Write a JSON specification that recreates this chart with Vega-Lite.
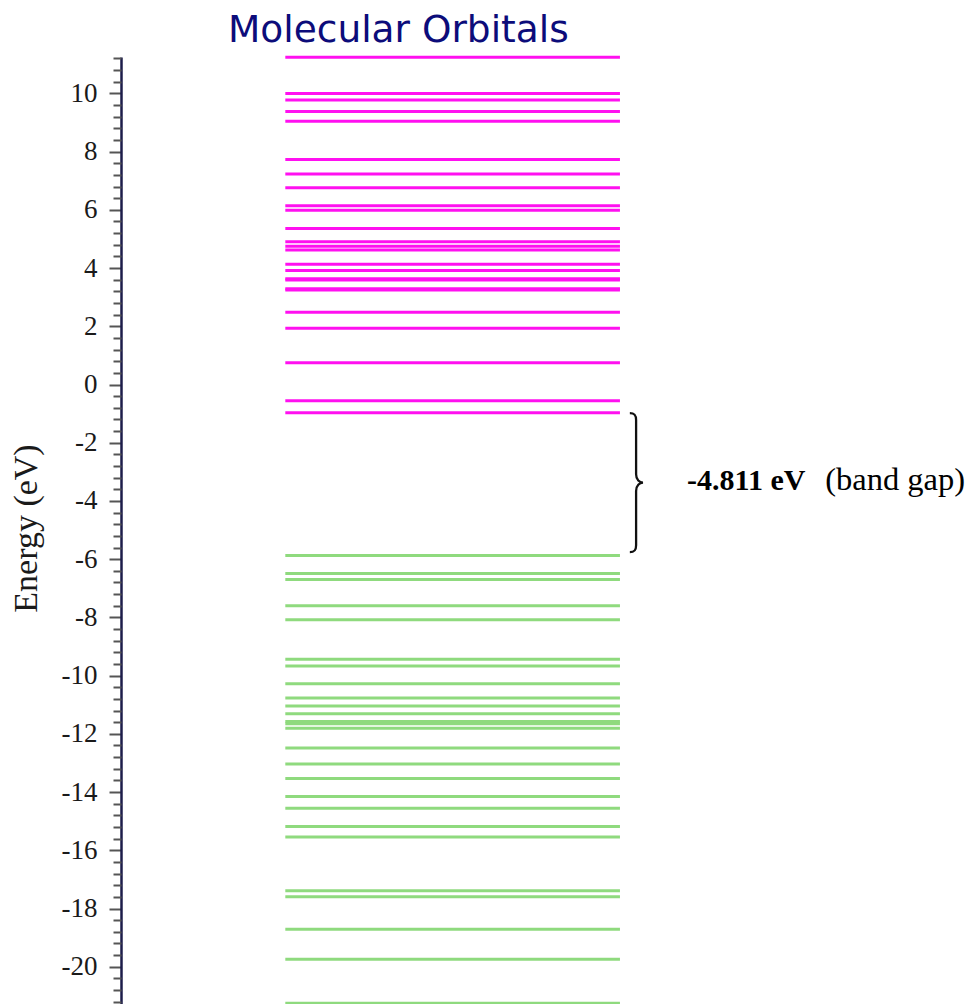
{
  "$schema": "https://vega.github.io/schema/vega-lite/v6.json",
  "autosize": {"type": "none"},
  "padding": {"left": 121, "top": 57, "right": 0, "bottom": 0},
  "width": 850,
  "height": 947,
  "background": "white",
  "config": {"view": {"stroke": null}},
  "title": {
    "text": "Molecular Orbitals",
    "anchor": "start",
    "frame": "group",
    "dx": 107,
    "offset": 6,
    "font": "DejaVu Sans",
    "fontSize": 37.5,
    "fontWeight": "normal",
    "color": "#0c0c7a"
  },
  "datasets": {
    "orbitals": [
      {"energy": 11.24, "orbital": "unoccupied"},
      {"energy": 10.0, "orbital": "unoccupied"},
      {"energy": 9.77, "orbital": "unoccupied"},
      {"energy": 9.38, "orbital": "unoccupied"},
      {"energy": 9.04, "orbital": "unoccupied"},
      {"energy": 7.73, "orbital": "unoccupied"},
      {"energy": 7.23, "orbital": "unoccupied"},
      {"energy": 6.76, "orbital": "unoccupied"},
      {"energy": 6.14, "orbital": "unoccupied"},
      {"energy": 5.99, "orbital": "unoccupied"},
      {"energy": 5.36, "orbital": "unoccupied"},
      {"energy": 4.90, "orbital": "unoccupied"},
      {"energy": 4.75, "orbital": "unoccupied"},
      {"energy": 4.62, "orbital": "unoccupied"},
      {"energy": 4.13, "orbital": "unoccupied"},
      {"energy": 3.92, "orbital": "unoccupied"},
      {"energy": 3.63, "orbital": "unoccupied"},
      {"energy": 3.59, "orbital": "unoccupied"},
      {"energy": 3.29, "orbital": "unoccupied"},
      {"energy": 3.25, "orbital": "unoccupied"},
      {"energy": 2.48, "orbital": "unoccupied"},
      {"energy": 1.93, "orbital": "unoccupied"},
      {"energy": 0.75, "orbital": "unoccupied"},
      {"energy": -0.56, "orbital": "unoccupied"},
      {"energy": -0.97, "orbital": "unoccupied"},
      {"energy": -5.87, "orbital": "occupied"},
      {"energy": -6.49, "orbital": "occupied"},
      {"energy": -6.70, "orbital": "occupied"},
      {"energy": -7.60, "orbital": "occupied"},
      {"energy": -8.08, "orbital": "occupied"},
      {"energy": -9.44, "orbital": "occupied"},
      {"energy": -9.67, "orbital": "occupied"},
      {"energy": -10.28, "orbital": "occupied"},
      {"energy": -10.77, "orbital": "occupied"},
      {"energy": -11.04, "orbital": "occupied"},
      {"energy": -11.31, "orbital": "occupied"},
      {"energy": -11.58, "orbital": "occupied"},
      {"energy": -11.65, "orbital": "occupied"},
      {"energy": -11.81, "orbital": "occupied"},
      {"energy": -12.49, "orbital": "occupied"},
      {"energy": -13.04, "orbital": "occupied"},
      {"energy": -13.53, "orbital": "occupied"},
      {"energy": -14.15, "orbital": "occupied"},
      {"energy": -14.56, "orbital": "occupied"},
      {"energy": -15.18, "orbital": "occupied"},
      {"energy": -15.54, "orbital": "occupied"},
      {"energy": -17.39, "orbital": "occupied"},
      {"energy": -17.60, "orbital": "occupied"},
      {"energy": -18.71, "orbital": "occupied"},
      {"energy": -19.74, "orbital": "occupied"},
      {"energy": -21.25, "orbital": "occupied"}
    ],
    "gap": [
      {"mid": -3.37, "label": "-4.811 eV", "note": "(band gap)", "textY": -3.63}
    ]
  },
  "resolve": {"axis": {"y": "independent"}},
  "layer": [
    {
      "data": {"name": "orbitals"},
      "mark": {"type": "rule", "strokeWidth": 3},
      "encoding": {
        "y": {
          "field": "energy",
          "type": "quantitative",
          "scale": {"domain": [-21.28, 11.25], "nice": false, "zero": false},
          "axis": {
            "orient": "left",
            "values": [-20, -18, -16, -14, -12, -10, -8, -6, -4, -2, 0, 2, 4, 6, 8, 10],
            "labelExpr": "datum.value < 0 ? '-' + abs(datum.value) : '' + datum.value",
            "grid": false,
            "title": "Energy (eV)",
            "titleFont": "Liberation Serif",
            "titleFontSize": 34,
            "titleFontWeight": "normal",
            "titleColor": "#1a1a1a",
            "titleAngle": -90,
            "titleX": -95,
            "titleY": 471,
            "titleAlign": "center",
            "titleBaseline": "middle",
            "labelFont": "Liberation Serif",
            "labelFontSize": 27,
            "labelColor": "#1a1a1a",
            "labelPadding": 12,
            "tickSize": 12,
            "tickWidth": 2,
            "tickColor": "#555555",
            "domainColor": "#1c1c4a",
            "domainWidth": 2.5
          }
        },
        "x": {"datum": 19.33, "type": "quantitative", "scale": {"domain": [0, 100], "nice": false, "zero": false}, "axis": null},
        "x2": {"datum": 58.7},
        "color": {
          "field": "orbital",
          "type": "nominal",
          "scale": {"domain": ["unoccupied", "occupied"], "range": ["#ff10f0", "#8fda7e"]},
          "legend": null
        }
      }
    },
    {
      "data": {"name": "gap"},
      "mark": {
        "type": "point",
        "shape": "M-0.09,-1 C-0.02,-1 0,-0.97 0,-0.9 L0,-0.12 C0,-0.04 0.05,0 0.1,0 C0.05,0 0,0.04 0,0.12 L0,0.9 C0,0.97 -0.02,1 -0.09,1",
        "size": 19321,
        "filled": false,
        "stroke": "#111111",
        "strokeWidth": 2.3,
        "opacity": 1
      },
      "encoding": {
        "y": {
          "field": "mid",
          "type": "quantitative",
          "axis": {
            "orient": "left",
            "values": [-21.2, -20.8, -20.4, -19.6, -19.2, -18.8, -18.4, -17.6, -17.2, -16.8, -16.4, -15.6, -15.2, -14.8, -14.4, -13.6, -13.2, -12.8, -12.4, -11.6, -11.2, -10.8, -10.4, -9.6, -9.2, -8.8, -8.4, -7.6, -7.2, -6.8, -6.4, -5.6, -5.2, -4.8, -4.4, -3.6, -3.2, -2.8, -2.4, -1.6, -1.2, -0.8, -0.4, 0.4, 0.8, 1.2, 1.6, 2.4, 2.8, 3.2, 3.6, 4.4, 4.8, 5.2, 5.6, 6.4, 6.8, 7.2, 7.6, 8.4, 8.8, 9.2, 9.6, 10.4, 10.8, 11.2],
            "labels": false,
            "domain": false,
            "grid": false,
            "title": null,
            "tickSize": 8,
            "tickWidth": 2,
            "tickColor": "#555555"
          }
        },
        "x": {"datum": 60.6, "type": "quantitative"}
      }
    },
    {
      "data": {"name": "gap"},
      "mark": {"type": "text", "align": "left", "baseline": "alphabetic", "font": "Liberation Serif", "fontSize": 30, "fontWeight": "bold", "color": "#000000"},
      "encoding": {
        "y": {"field": "textY", "type": "quantitative", "axis": null},
        "x": {"datum": 66.6, "type": "quantitative"},
        "text": {"field": "label"}
      }
    },
    {
      "data": {"name": "gap"},
      "mark": {"type": "text", "align": "right", "baseline": "alphabetic", "font": "Liberation Serif", "fontSize": 32.5, "color": "#000000"},
      "encoding": {
        "y": {"field": "textY", "type": "quantitative", "axis": null},
        "x": {"datum": 99.3, "type": "quantitative"},
        "text": {"field": "note"}
      }
    }
  ]
}
